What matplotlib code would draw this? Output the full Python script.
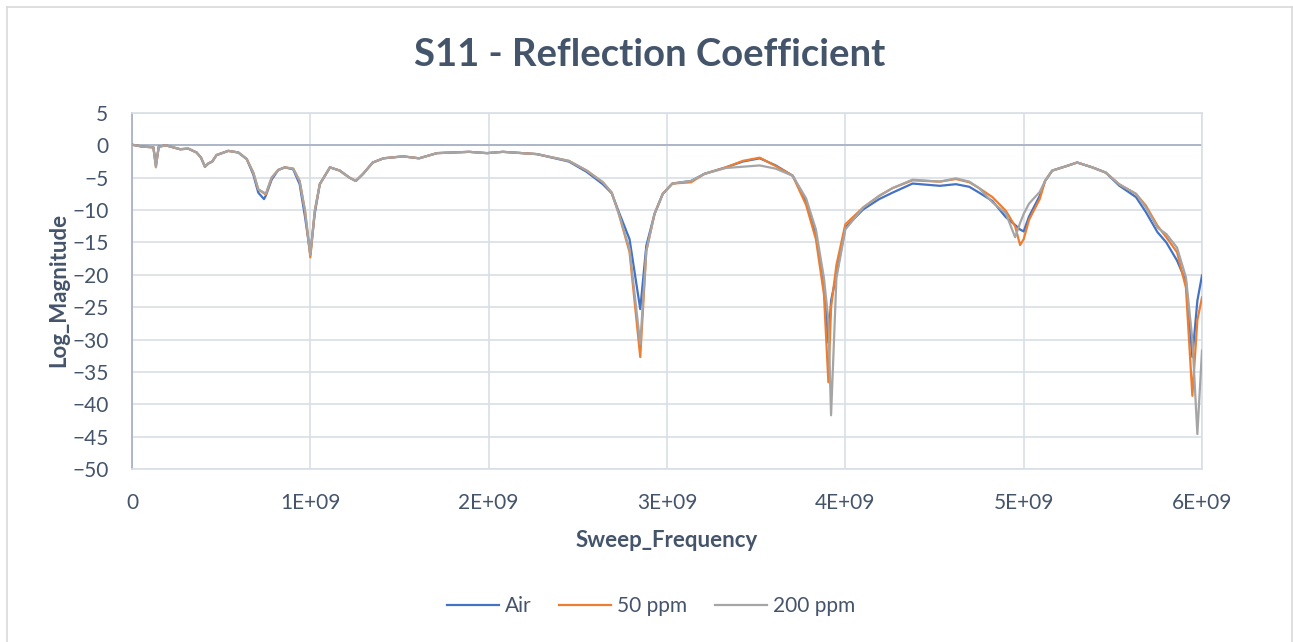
import numpy as np
import matplotlib
matplotlib.use("Agg")
import matplotlib.pyplot as plt
from matplotlib.lines import Line2D

# sweep frequency in GHz (converted to Hz below)
freq_ghz = [0, 0.06, 0.12, 0.134, 0.15, 0.19, 0.27, 0.315, 0.362, 0.387, 0.409, 0.428, 0.45, 0.474,
            0.54, 0.596, 0.643, 0.68, 0.708, 0.74, 0.75, 0.783, 0.82, 0.857, 0.904, 0.94, 0.97, 1.0,
            1.025, 1.053, 1.11, 1.165, 1.22, 1.255, 1.296, 1.35, 1.41, 1.52, 1.61, 1.71, 1.89, 1.99,
            2.08, 2.27, 2.45, 2.55, 2.64, 2.69, 2.73, 2.79, 2.85, 2.884, 2.93, 2.976, 3.03, 3.135,
            3.21, 3.33, 3.425, 3.52, 3.61, 3.705, 3.78, 3.835, 3.88, 3.905, 3.92, 3.95, 4.0, 4.1,
            4.19, 4.265, 4.377, 4.53, 4.62, 4.695, 4.75, 4.825, 4.90, 4.952, 4.98, 5.0, 5.03, 5.09,
            5.12, 5.16, 5.24, 5.30, 5.385, 5.46, 5.535, 5.63, 5.685, 5.75, 5.80, 5.86, 5.91, 5.946,
            5.974, 6.0]

air = [0.1, -0.2, -0.3, -3.0, -0.2, 0.0, -0.6, -0.5, -1.1, -1.9, -3.3, -2.8, -2.5, -1.5,
       -0.85, -1.1, -2.1, -4.5, -7.3, -8.3, -7.8, -5.3, -3.8, -3.4, -3.7, -6.0, -11.0, -16.8,
       -10.5, -6.0, -3.4, -3.9, -5.0, -5.5, -4.4, -2.65, -2.0, -1.7, -2.0, -1.2, -1.0, -1.2,
       -1.0, -1.35, -2.5, -4.1, -6.0, -7.4, -10.3, -14.5, -25.3, -15.5, -10.6, -7.5, -5.9, -5.5,
       -4.4, -3.4, -2.5, -2.0, -3.1, -4.7, -8.6, -13.7, -21.9, -30.5, -24.0, -20.0, -12.7, -9.9,
       -8.3, -7.3, -5.9, -6.25, -6.0, -6.4, -7.3, -8.6, -11.1, -12.3, -13.0, -13.3, -11.0, -7.8,
       -5.5, -3.9, -3.2, -2.65, -3.4, -4.2, -6.2, -8.0, -10.3, -13.4, -15.0, -17.8, -21.0, -32.7,
       -24.0, -20.1]

ppm50 = [0.1, -0.2, -0.3, -3.3, -0.2, 0.0, -0.6, -0.5, -1.1, -1.9, -3.3, -2.8, -2.5, -1.5,
         -0.85, -1.1, -2.1, -4.2, -6.8, -7.4, -7.6, -5.0, -3.8, -3.4, -3.6, -5.5, -10.1, -17.3,
         -10.1, -6.0, -3.4, -3.9, -5.0, -5.5, -4.4, -2.65, -2.0, -1.7, -2.0, -1.2, -1.0, -1.2,
         -1.0, -1.35, -2.4, -3.9, -5.7, -7.3, -10.6, -16.5, -32.7, -16.3, -10.6, -7.5, -5.9, -5.7,
         -4.4, -3.4, -2.4, -1.9, -3.2, -4.7, -9.2, -14.5, -23.0, -36.6, -25.0, -18.5, -12.2, -9.6,
         -7.8, -6.6, -5.4, -5.6, -5.2, -5.7, -6.6, -8.0, -10.1, -12.5, -15.4, -14.5, -11.5, -8.3,
         -5.5, -3.9, -3.2, -2.65, -3.4, -4.2, -6.0, -7.5, -9.3, -12.4, -14.2, -16.5, -22.0, -38.7,
         -27.0, -23.5]

ppm200 = [0.1, -0.2, -0.3, -3.4, -0.2, 0.0, -0.6, -0.5, -1.1, -1.9, -3.3, -2.8, -2.5, -1.5,
          -0.85, -1.1, -2.1, -4.2, -6.8, -7.3, -7.5, -5.0, -3.8, -3.4, -3.6, -5.5, -10.1, -16.9,
          -10.1, -6.0, -3.4, -3.9, -5.0, -5.5, -4.4, -2.65, -2.0, -1.7, -2.0, -1.2, -1.0, -1.2,
          -1.0, -1.35, -2.4, -3.9, -5.7, -7.3, -10.6, -16.0, -30.7, -16.3, -10.6, -7.5, -5.9, -5.5,
          -4.4, -3.5, -3.3, -3.1, -3.6, -4.7, -8.2, -13.0, -20.5, -27.0, -41.7, -20.5, -13.0, -9.6,
          -7.8, -6.6, -5.3, -5.6, -5.1, -5.6, -6.6, -8.8, -10.5, -14.2, -12.0, -10.6, -9.0, -7.2,
          -5.5, -3.9, -3.2, -2.65, -3.4, -4.2, -6.0, -7.5, -9.6, -12.7, -13.7, -15.8, -20.4, -30.0,
          -44.6, -31.7]

series_names = ["Air", "50 ppm", "200 ppm"]
colors = ["#4472C4", "#ED7D31", "#A5A5A5"]

text_color = "#44546A"
grid_color = "#D9DEE6"
axis_color = "#A9B3C5"

plt.rcParams["font.family"] = ["Lato", "DejaVu Sans"]

fig = plt.figure(figsize=(12.93, 6.42), dpi=100)
ax = fig.add_axes([132 / 1293, 1 - 469 / 642, (1202 - 132) / 1293, (469 - 113) / 642])

freq = np.array(freq_ghz) * 1e9
for vals, name, c in zip([air, ppm50, ppm200], series_names, colors):
    ax.plot(freq, vals, color=c, lw=1.6, label=name, zorder=3)

ax.set_xlim(0, 6e9)
ax.set_ylim(-50, 5)
ax.set_yticks(np.arange(-50, 6, 5))
ax.set_xticks(np.arange(0, 7) * 1e9)
ax.set_xticklabels(["0"] + [f"{i}E+09" for i in range(1, 7)])

ax.grid(True, color=grid_color, lw=1.2, zorder=0)
ax.axhline(0, color=axis_color, lw=1.3, zorder=2)
for s in ["top", "right", "bottom"]:
    ax.spines[s].set_color(grid_color)
    ax.spines[s].set_linewidth(1.2)
ax.spines["left"].set_color(axis_color)
ax.spines["left"].set_linewidth(1.3)
ax.tick_params(length=0, labelsize=15, colors=text_color)
ax.tick_params(axis="y", pad=17)
ax.tick_params(axis="x", pad=17)

ax.set_xlabel("Sweep_Frequency", fontsize=16, fontweight="bold", color=text_color)
ax.set_ylabel("Log_Magnitude", fontsize=16, fontweight="bold", color=text_color)
ax.xaxis.set_label_coords((667 - 132) / 1070, -(530 - 469) / 356)
ax.yaxis.set_label_coords(-(132 - 69) / 1070, (469 - 290) / 356)

fig.text(650 / 1293, 1 - 55 / 642, "S11 - Reflection Coefficient", ha="center", va="center",
         fontsize=27.5, fontweight="bold", color=text_color)

fig.legend(loc="center", bbox_to_anchor=(0.5035, 1 - 606 / 642), ncol=3, frameon=False,
           fontsize=15, handlelength=2.5, columnspacing=1.3, handletextpad=0.3,
           labelcolor=text_color)

# chart area border
for xs, ys in [([7, 1292], [7, 7]), ([7, 7], [7, 642]), ([1292, 1292], [7, 642])]:
    fig.add_artist(Line2D([x / 1293 for x in xs], [1 - y / 642 for y in ys],
                          color="#D9D9D9", lw=1.2))

fig.savefig("out.png", dpi=100)
